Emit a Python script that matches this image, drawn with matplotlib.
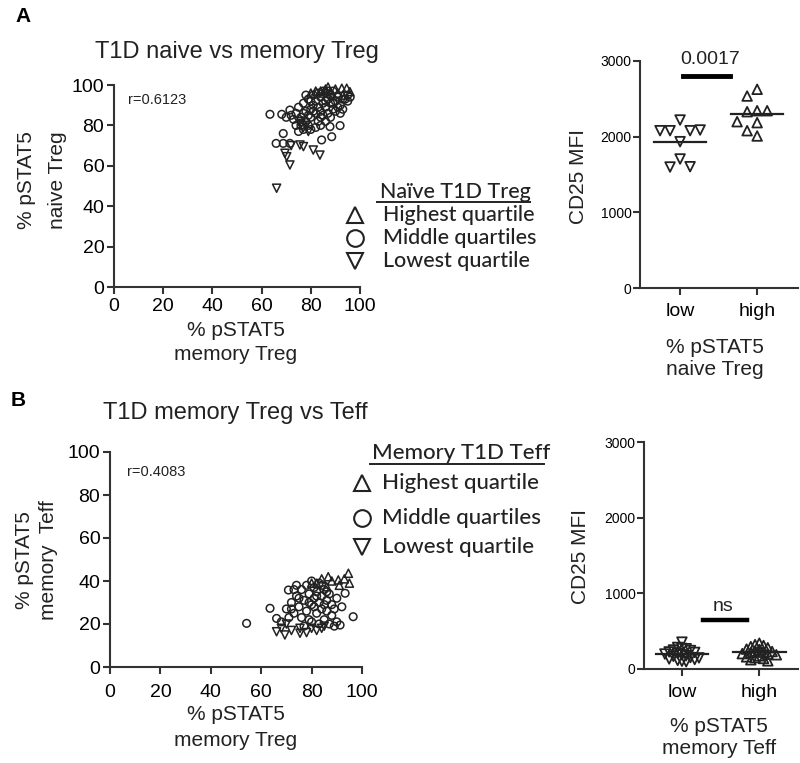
import numpy as np
import matplotlib.pyplot as plt
from matplotlib.lines import Line2D

# ---- panel A scatter: % pSTAT5 memory Treg (x) vs naive Treg (y)
a_mid_x = [63.4, 68.2, 71.5, 68.8, 65.9, 68.8, 71.5, 84.4, 87.8, 88.5, 91.9,
           74, 75, 76, 77, 78, 78, 79, 80, 80, 81, 81, 82, 82, 83, 83, 84, 84,
           85, 85, 86, 86, 87, 87, 88, 88, 89, 90, 90, 91, 92, 93, 94, 95,
           76, 77, 79, 80, 82, 84, 73, 74, 75, 72, 70, 79, 81, 83, 85, 87, 89,
           86, 88, 84, 77, 80, 78, 92, 91, 93, 95, 96, 89, 86]
a_mid_y = [85.5, 85.5, 87.6, 76, 71.1, 71.1, 71.1, 72.8, 79.4, 74.4, 79.9,
           86, 89, 84, 91, 87, 82, 93, 88, 84, 90, 95, 86, 92, 89, 82, 94, 87,
           91, 85, 96, 89, 93, 86, 91, 95, 88, 92, 87, 94, 90, 88, 93, 95,
           80, 78, 80, 78, 79, 80, 83, 80, 77, 85, 84, 85, 87, 96, 97, 97, 97,
           82, 84, 84, 86, 92, 95, 86, 89, 93, 92, 94, 91, 92]
a_hi_x = [92.6, 94.6, 95.9, 84, 86, 88, 82, 90, 85, 87, 93, 80, 89, 91]
a_hi_y = [98.4, 98.4, 96.7, 97, 98, 96, 97, 98, 96, 99, 95, 96, 95, 96]
a_lo_x = [75.6, 77, 69.5, 70.2, 71.5, 81, 83.7, 66.1, 76, 77, 78, 75, 79, 72]
a_lo_y = [70.3, 69.5, 66.2, 64.5, 60.4, 67.8, 65.3, 48.9, 81, 79, 80, 82, 77, 70]

# ---- panel A dot plot: CD25 MFI by naive Treg pSTAT5 group
a_low_mfi = [2220, 2079, 2079, 2079, 2088, 1934, 1705, 1599, 1603]
a_high_mfi = [2626, 2537, 2343, 2330, 2343, 2185, 2198, 2079, 2009]

# ---- panel B scatter: % pSTAT5 memory Treg (x) vs memory Teff (y)
b_mid_x = [54.2, 63.5, 66.1, 70.8, 91.3, 96.5, 93.3, 68, 70, 72, 73, 74, 75,
           76, 76, 77, 78, 78, 79, 80, 80, 81, 81, 82, 82, 83, 83, 84, 84, 85,
           85, 86, 86, 87, 88, 88, 89, 90, 90, 92, 74, 79, 71, 77, 83, 87, 89,
           80, 82, 84, 86, 79, 75, 73, 72, 81, 85]
b_mid_y = [20.3, 27.3, 22.6, 35.8, 19.5, 23.4, 34.3, 21, 27, 30, 25, 33, 28,
           36, 23, 31, 38, 26, 34, 29, 21, 37, 32, 25, 35, 30, 39, 27, 33, 36,
           22, 31, 26, 34, 29, 24, 27, 32, 21, 28, 38, 22, 23, 19, 20, 20, 19,
           40, 33, 38, 35, 30, 32, 36, 27, 28, 29]
b_hi_x = [94.6, 86.6, 90.6, 86, 93, 88, 84, 82, 95, 80, 91]
b_hi_y = [43.6, 42, 40.5, 37.3, 41, 40, 41, 39, 39, 39, 38]
b_lo_x = [66.1, 69.4, 75.4, 75.4, 68, 72, 80, 82, 85, 84, 70, 78]
b_lo_y = [16.4, 14.9, 18, 15.7, 18, 17, 18, 17, 19, 18, 20, 16]

# ---- panel B dot plot: CD25 MFI by memory Teff pSTAT5 group
b_low_mfi = [355, 285, 272, 268, 251, 244, 226, 219, 204, 198, 187, 176, 168,
             152, 147, 133, 126, 114, 103, 96]
b_high_mfi = [341, 322, 310, 296, 281, 263, 257, 238, 231, 222, 214, 203, 196,
              188, 174, 161, 150, 139, 122, 108]

groups = ['low', 'high']

FONT = 'Liberation Sans'
LEG_FONT = 'Lato'
INK = '#222222'
plt.rcParams['font.family'] = [FONT, 'DejaVu Sans']

fig = plt.figure(figsize=(8, 7.63), dpi=100)


def fx(p):
    return p / 800.0


def fy(p):
    return 1 - p / 763.0


def box(l, t, r, b):
    return [fx(l), fy(b), fx(r) - fx(l), fy(t) - fy(b)]


def style(ax):
    for s in ['top', 'right']:
        ax.spines[s].set_visible(False)
    for s in ['left', 'bottom']:
        ax.spines[s].set_linewidth(1.5)
        ax.spines[s].set_color('#333333')
    ax.tick_params(width=1.5, length=5, color='#333333', direction='out')


def swarm(vals, dx, dy):
    placed, offs = [], []
    cands = [0.0] + [s * i * dx for i in range(1, 30) for s in (-1, 1)]
    for v in vals:
        for c in cands:
            if all(abs(c - o) >= dx * 0.99 or abs(v - pv) >= dy for o, pv in placed):
                break
        placed.append((c, v))
        offs.append(c)
    return np.array(offs)


def lines(texts, xs, ys, size, rot=0):
    for t, x, y in zip(texts, xs, ys):
        fig.text(fx(x), fy(y), t, fontsize=size, ha='center', va='center',
                 rotation=rot, color=INK)


def scatter_panel(ax, mid, hi, lo, rtext, rpos, pad):
    kw = dict(facecolors='none', edgecolors=INK, linewidths=1.1, clip_on=False)
    ax.scatter(mid[0], mid[1], marker='o', s=30, **kw)
    ax.scatter(hi[0], hi[1], marker='^', s=34, **kw)
    ax.scatter(lo[0], lo[1], marker='v', s=34, **kw)
    ax.set_xlim(0, 100)
    ax.set_ylim(0, 100)
    ax.set_xticks(range(0, 101, 20))
    ax.set_yticks(range(0, 101, 20))
    style(ax)
    ax.tick_params(axis='x', labelsize=14, pad=pad)
    ax.tick_params(axis='y', labelsize=14, pad=2)
    ax.text(rpos[0], rpos[1], rtext, fontsize=10.5, ha='left', va='center',
            color=INK)


def dot_panel(ax, low, high, dx, dy, xlim):
    for i, (vals, m) in enumerate([(low, 'v'), (high, '^')]):
        offs = swarm(vals, dx, dy)
        ax.scatter(i + offs, vals, marker=m, s=48, facecolors='none',
                   edgecolors=INK, linewidths=1.3, clip_on=False, zorder=3)
        mu = np.mean(vals)
        ax.plot([i - 0.34, i + 0.34], [mu, mu], color=INK, lw=1.6, zorder=2)
    ax.set_xlim(*xlim)
    ax.set_ylim(0, 3000)
    ax.set_xticks([0, 1])
    ax.set_xticklabels(groups)
    ax.set_yticks([0, 1000, 2000, 3000])
    style(ax)
    ax.tick_params(axis='x', labelsize=14, pad=6)
    ax.tick_params(axis='y', labelsize=10, pad=1)


def legend_block(title, labels, markers, hx, hy, ux0, ux1, uy, mx, tx, rows,
                 size, msize):
    fig.text(fx(hx), fy(hy), title, fontsize=size, family=LEG_FONT,
             fontweight='medium', ha='left', va='center', color=INK)
    fig.add_artist(Line2D([fx(ux0), fx(ux1)], [fy(uy), fy(uy)], color=INK,
                          lw=1.4, transform=fig.transFigure))
    for lab, m, ry in zip(labels, markers, rows):
        fig.add_artist(Line2D([fx(mx)], [fy(ry)], marker=m, markersize=msize,
                              mfc='none', mec=INK, mew=1.5, ls='none',
                              transform=fig.transFigure))
        fig.text(fx(tx), fy(ry), lab, fontsize=size, family=LEG_FONT,
                 fontweight='medium', ha='left', va='center', color=INK)


leg_labels = ['Highest quartile', 'Middle quartiles', 'Lowest quartile']
leg_markers = ['^', 'o', 'v']

# ---------------- panel A
axA = fig.add_axes(box(114, 85, 360, 287))
scatter_panel(axA, (a_mid_x, a_mid_y), (a_hi_x, a_hi_y), (a_lo_x, a_lo_y),
              'r=0.6123', (5.7, 92.6), 3)
axA2 = fig.add_axes(box(640, 61, 798, 288))
dot_panel(axA2, a_low_mfi, a_high_mfi, 0.13, 150, (-0.52, 1.53))
axA2.plot([0.04, 0.65], [2800, 2800], color='black', lw=3.5, clip_on=False)
axA2.text(0.39, 3020, '0.0017', fontsize=14, ha='center', va='center',
          color=INK, clip_on=False)

fig.text(fx(23), fy(16), 'A', fontsize=15, fontweight='bold', ha='center',
         va='center', color='black')
lines(['T1D naive vs memory Treg'], [237], [52], 17)
lines(['% pSTAT5', 'naive Treg'], [27, 58], [180, 180], 15, 90)
lines(['% pSTAT5', 'memory Treg'], [236, 236], [330, 355], 15)
lines(['CD25 MFI'], [578], [177], 15, 90)
lines(['% pSTAT5', 'naive Treg'], [715, 715], [347, 370], 15)
legend_block('Naïve T1D Treg', leg_labels, leg_markers, 380, 191.5, 376.7, 530,
             201.7, 355, 383, [215, 238, 261], 15.5, 12)

# ---------------- panel B
axB = fig.add_axes(box(110, 452, 362, 667))
scatter_panel(axB, (b_mid_x, b_mid_y), (b_hi_x, b_hi_y), (b_lo_x, b_lo_y),
              'r=0.4083', (6.7, 90.7), 7)
axB2 = fig.add_axes(box(644, 442, 798, 669))
dot_panel(axB2, b_low_mfi, b_high_mfi, 0.055, 80, (-0.49, 1.5))
axB2.plot([0.27, 0.84], [650, 650], color='black', lw=3.2, clip_on=False)
axB2.text(0.53, 830, 'ns', fontsize=14, ha='center', va='center', color=INK)

fig.text(fx(18), fy(400), 'B', fontsize=15, fontweight='bold', ha='center',
         va='center', color='black')
lines(['T1D memory Treg vs Teff'], [235], [413], 17)
lines(['% pSTAT5', 'memory  Teff'], [25, 49], [560, 560], 15, 90)
lines(['% pSTAT5', 'memory Treg'], [236, 236], [715, 740], 15)
lines(['CD25 MFI'], [580], [557], 15, 90)
lines(['% pSTAT5', 'memory Teff'], [719, 719], [726, 748], 15)
legend_block('Memory T1D Teff', leg_labels, leg_markers, 372, 453, 370, 544,
             464.3, 361.7, 382, [483, 518, 547], 16, 12)

fig.savefig('out.png', dpi=100)
